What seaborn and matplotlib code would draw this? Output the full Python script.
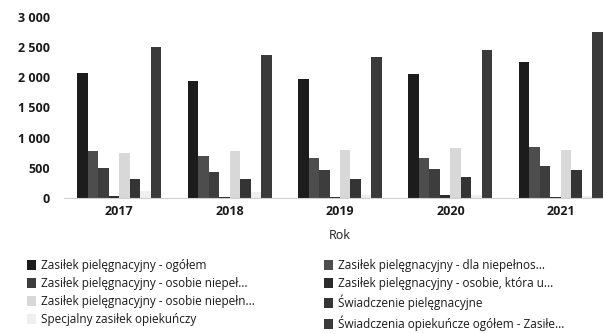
import matplotlib
matplotlib.use("Agg")
import matplotlib.pyplot as plt
from matplotlib.ticker import FuncFormatter
import seaborn as sns
import pandas as pd

years = ["2017", "2018", "2019", "2020", "2021"]

series = [
    "Zasiłek pielęgnacyjny - ogółem",
    "Zasiłek pielęgnacyjny - dla niepełnos...",
    "Zasiłek pielęgnacyjny - osobie niepeł...",
    "Zasiłek pielęgnacyjny - osobie, która u...",
    "Zasiłek pielęgnacyjny - osobie niepełn...",
    "Świadczenie pielęgnacyjne",
    "Specjalny zasiłek opiekuńczy",
    "Świadczenia opiekuńcze ogółem - Zasiłe...",
]

zp_ogolem = [2080, 1945, 1965, 2055, 2255]
zp_dzieci = [785, 695, 660, 670, 850]
zp_znaczny = [500, 425, 465, 480, 535]
zp_75lat = [35, 10, 10, 45, 20]
zp_umiark = [740, 780, 795, 825, 795]
sw_pieleg = [315, 315, 315, 345, 465]
spec_zas = [110, 105, 55, 55, 40]
sw_ogolem = [2510, 2365, 2330, 2455, 2755]

values = [zp_ogolem, zp_dzieci, zp_znaczny, zp_75lat,
          zp_umiark, sw_pieleg, spec_zas, sw_ogolem]

colors = ["#1c1c1c", "#4d4d4d", "#3d3d3d", "#2b2b2b",
          "#d8d8d8", "#343434", "#efefef", "#3a3a3a"]

rows = []
for name, vals in zip(series, values):
    for y, v in zip(years, vals):
        rows.append({"Rok": y, "Seria": name, "Wartość": v})
df = pd.DataFrame(rows)

sns.set_theme(style="white")
plt.rcParams["font.family"] = ["Open Sans", "DejaVu Sans"]

fig = plt.figure(figsize=(6.03, 3.34), dpi=100)
ax = fig.add_axes([64 / 603, 136 / 334, 552 / 603, 181 / 334])

sns.barplot(data=df, x="Rok", y="Wartość", hue="Seria", hue_order=series,
            palette=colors, saturation=1, width=0.76, gap=0, ax=ax,
            errorbar=None, linewidth=0)

ax.set_xlim(-0.5, 4.5)
ax.set_ylim(0, 3000)
ax.set_yticks(range(0, 3001, 500))
ax.yaxis.set_major_formatter(
    FuncFormatter(lambda v, p: f"{int(v):,}".replace(",", " ")))
ax.tick_params(axis="both", length=0, labelsize=9, colors="#1a1a1a")
ax.tick_params(axis="y", pad=10)
ax.tick_params(axis="x", pad=5)
for lab in ax.get_xticklabels() + ax.get_yticklabels():
    lab.set_fontweight("bold")

ax.set_ylabel("")
ax.set_xlabel("Rok", fontsize=9, color="#1a1a1a", labelpad=8)

for side in ("top", "right", "left"):
    ax.spines[side].set_visible(False)
ax.spines["bottom"].set_color("#d0d0d0")
ax.spines["bottom"].set_linewidth(0.8)

handles, labels = ax.get_legend_handles_labels()
ax.legend_.remove()

legend_kw = dict(frameon=False, fontsize=8.5, handlelength=0.75,
                 handleheight=0.9, handletextpad=0.4, labelspacing=0.42,
                 borderpad=0, borderaxespad=0, loc="upper left",
                 labelcolor="#1a1a1a")
left_idx = [0, 2, 4, 6]
right_idx = [1, 3, 5, 7]
fig.legend([handles[i] for i in left_idx], [labels[i] for i in left_idx],
           bbox_to_anchor=(27 / 603, 75 / 334), **legend_kw)
fig.legend([handles[i] for i in right_idx], [labels[i] for i in right_idx],
           bbox_to_anchor=(324 / 603, 75 / 334), **legend_kw)

fig.savefig("out.png", dpi=100)
